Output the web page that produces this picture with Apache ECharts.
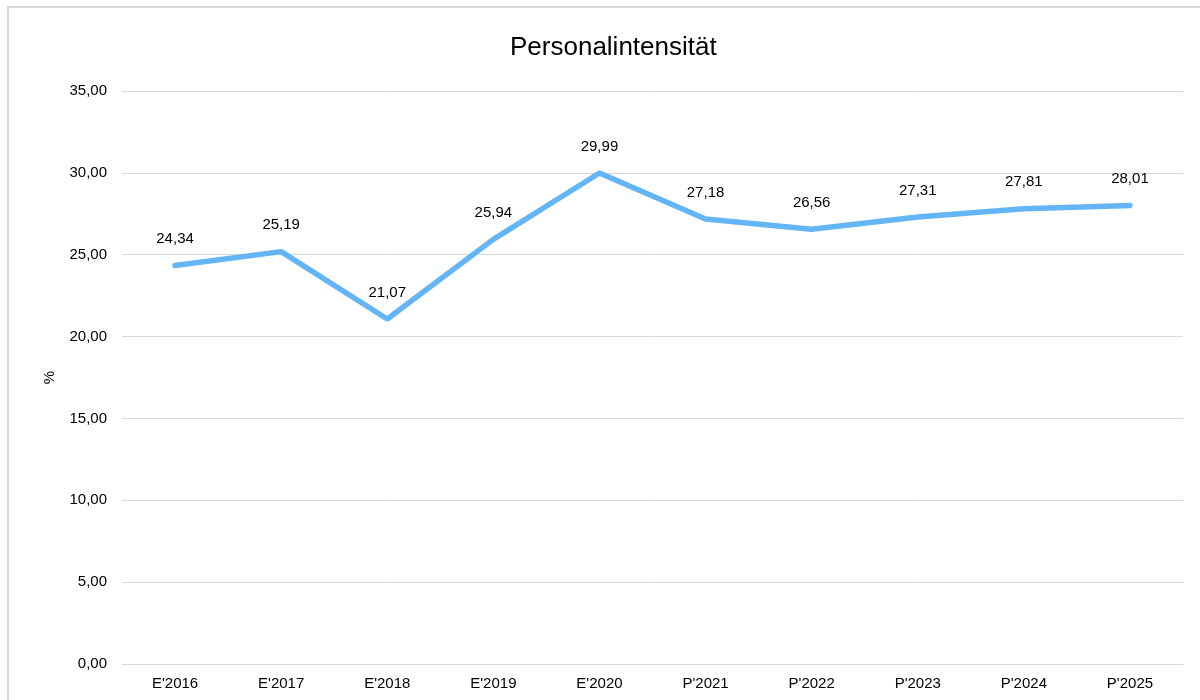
<!DOCTYPE html>
<html>
<head>
<meta charset="utf-8">
<script src="https://cdn.jsdelivr.net/npm/echarts@6/dist/echarts.min.js"></script>
<style>
  html, body { margin: 0; padding: 0; background: #fff; }
  #main { width: 1200px; height: 700px; }
</style>
</head>
<body>
<div id="main"></div>
<script>
// Personalintensität in %
var years = ["E'2016", "E'2017", "E'2018", "E'2019", "E'2020", "P'2021", "P'2022", "P'2023", "P'2024", "P'2025"]
var values = [24.34, 25.19, 21.07, 25.94, 29.99, 27.18, 26.56, 27.31, 27.81, 28.01]

function fmt(v) {
  return v.toFixed(2).replace('.', ',')
}

var chart = echarts.init(document.getElementById('main'))

var option = {
  animation: false,
  textStyle: {
    fontFamily: 'Liberation Sans, Arial, sans-serif'
  },
  title: {
    text: 'Personalintensität',
    left: 505,
    top: 30,
    textStyle: {
      fontSize: 26,
      fontWeight: 'normal',
      color: '#000'
    }
  },
  graphic: [
    {
      type: 'rect',
      shape: { x: 8, y: 7, width: 1200, height: 720 },
      style: { fill: 'none', stroke: '#d9d9d9', lineWidth: 2 },
      silent: true
    }
  ],
  grid: {
    left: 122,
    right: 17,
    top: 91,
    bottom: 36
  },
  xAxis: {
    type: 'category',
    data: years,
    boundaryGap: true,
    axisTick: { show: false },
    axisLine: { lineStyle: { color: '#d9d9d9', width: 1 } },
    axisLabel: {
      color: '#000',
      fontSize: 15,
      margin: 12
    }
  },
  yAxis: {
    type: 'value',
    min: 0,
    max: 35,
    interval: 5,
    name: '%',
    nameLocation: 'middle',
    nameGap: 65,
    nameRotate: 90,
    nameTextStyle: { color: '#000', fontSize: 15 },
    axisLine: { show: false },
    axisTick: { show: false },
    splitLine: { lineStyle: { color: '#d9d9d9', width: 1 } },
    axisLabel: {
      color: '#000',
      fontSize: 15,
      margin: 15,
      formatter: function (v) { return fmt(v) }
    }
  },
  series: [
    {
      type: 'line',
      data: values,
      symbol: 'circle',
      symbolSize: 2,
      showSymbol: true,
      lineStyle: { color: '#64b5f6', width: 5.5, cap: 'round' },
      itemStyle: { color: '#64b5f6' },
      label: {
        show: true,
        position: 'top',
        distance: 18,
        color: '#000',
        fontSize: 15,
        formatter: function (p) { return fmt(p.value) }
      }
    }
  ]
}

chart.setOption(option)
</script>
</body>
</html>
